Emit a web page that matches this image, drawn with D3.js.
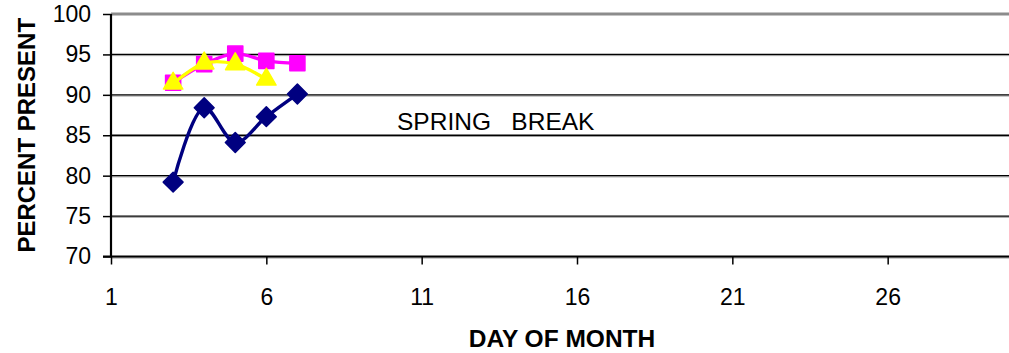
<!DOCTYPE html>
<html>
<head>
<meta charset="utf-8">
<script src="https://cdn.jsdelivr.net/npm/d3@7"></script>
<style>
  body { margin: 0; background: #fff; }
  text { font-family: Arial, "Liberation Sans", sans-serif; }
</style>
</head>
<body>
<div id="chart"></div>
<script>
const days = [3, 4, 5, 6, 7];
const navyValues = [79.2, 88.4, 84.1, 87.3, 90.1];
const pinkValues = [91.5, 93.8, 95.1, 94.2, 93.9];
const yellowValues = [91.4, 93.9, 93.8, 91.9];
const xTicks = [1, 6, 11, 16, 21, 26];
const yTicks = [70, 75, 80, 85, 90, 95, 100];
const noteText = "SPRING   BREAK";

var width = 1009,
  height = 353;

var svg = d3
  .select("#chart")
  .append("svg")
  .attr("width", width)
  .attr("height", height);

var x = d3.scaleLinear().domain([1, 31]).range([111, 1043]);
var y = d3.scaleLinear().domain([70, 100]).range([256.5, 14]);

// grid lines with a grey shadow underneath, like the old excel look
var grid = svg.append("g");
yTicks.slice(1, -1).forEach(function(v) {
  grid
    .append("line")
    .attr("x1", x(1))
    .attr("x2", width)
    .attr("y1", y(v) + 1.2)
    .attr("y2", y(v) + 1.2)
    .attr("stroke", "#9a9a9a")
    .attr("stroke-width", 1);
  grid
    .append("line")
    .attr("x1", x(1))
    .attr("x2", width)
    .attr("y1", y(v))
    .attr("y2", y(v))
    .attr("stroke", "#000")
    .attr("stroke-width", 1.3);
});

// top border of plot area
svg
  .append("line")
  .attr("x1", x(1))
  .attr("x2", width)
  .attr("y1", y(100))
  .attr("y2", y(100))
  .attr("stroke", "#8c8c8c")
  .attr("stroke-width", 3);

// x axis
svg
  .append("line")
  .attr("x1", x(1))
  .attr("x2", width)
  .attr("y1", y(70) + 1.3)
  .attr("y2", y(70) + 1.3)
  .attr("stroke", "#9a9a9a")
  .attr("stroke-width", 1.2);

var xAxis = svg
  .append("g")
  .attr("transform", "translate(0," + y(70) + ")")
  .call(
    d3
      .axisBottom(x)
      .tickValues(xTicks)
      .tickSize(8)
      .tickPadding(24)
      .tickFormat(d3.format("d"))
  );
xAxis.select(".domain").remove();
xAxis
  .append("line")
  .attr("x1", x(1) - 8)
  .attr("x2", width)
  .attr("stroke", "#000")
  .attr("stroke-width", 1.8);
xAxis.selectAll(".tick line").attr("stroke", "#000").attr("stroke-width", 1.5);
xAxis
  .selectAll(".tick text")
  .attr("fill", "#000")
  .attr("font-size", 23)
  .attr("font-family", "Arial, 'Liberation Sans', sans-serif");

// y axis
var yAxis = svg
  .append("g")
  .attr("transform", "translate(" + x(1) + ",0)")
  .call(
    d3
      .axisLeft(y)
      .tickValues(yTicks)
      .tickSize(8)
      .tickPadding(12)
  );
yAxis.select(".domain").remove();
yAxis
  .append("line")
  .attr("y1", y(100))
  .attr("y2", y(70))
  .attr("stroke", "#000")
  .attr("stroke-width", 2.2);
yAxis.selectAll(".tick line").attr("stroke", "#000").attr("stroke-width", 1.5);
yAxis
  .selectAll(".tick text")
  .attr("fill", "#000")
  .attr("font-size", 23)
  .attr("font-family", "Arial, 'Liberation Sans', sans-serif");

// axis titles
svg
  .append("text")
  .attr("transform", "translate(35," + (y(70) + y(100)) / 2 + ") rotate(-90)")
  .attr("text-anchor", "middle")
  .attr("font-size", 24)
  .attr("font-weight", "bold")
  .text("PERCENT PRESENT");

svg
  .append("text")
  .attr("x", 562)
  .attr("y", 347)
  .attr("text-anchor", "middle")
  .attr("font-size", 24.5)
  .attr("font-weight", "bold")
  .text("DAY OF MONTH");

svg
  .append("text")
  .attr("x", 397)
  .attr("y", 130)
  .attr("font-size", 24.5)
  .style("white-space", "pre")
  .text(noteText);

// series
var line = d3
  .line()
  .x(d => x(d.day))
  .y(d => y(d.value))
  .curve(d3.curveCatmullRom.alpha(0.5));

function toPoints(vals) {
  return vals.map((v, i) => ({ day: days[i], value: v }));
}

function drawSeries(vals, color, symbol, size) {
  var pts = toPoints(vals);
  var g = svg.append("g");
  g.append("path")
    .attr("d", line(pts))
    .attr("fill", "none")
    .attr("stroke", color)
    .attr("stroke-width", 3.4);
  g.selectAll("path.marker")
    .data(pts)
    .enter()
    .append("path")
    .attr("class", "marker")
    .attr("transform", d => "translate(" + x(d.day) + "," + y(d.value) + ")")
    .attr("d", d3.symbol().type(symbol).size(size))
    .attr("fill", color)
    .attr("stroke", color)
    .attr("stroke-width", 1.5)
    .attr("stroke-linejoin", "round");
}

drawSeries(navyValues, "#000080", d3.symbolDiamond2, 250);
drawSeries(pinkValues, "#ff00ff", d3.symbolSquare2, 290);
drawSeries(yellowValues, "#ffff00", d3.symbolTriangle2, 270);
</script>
</body>
</html>
